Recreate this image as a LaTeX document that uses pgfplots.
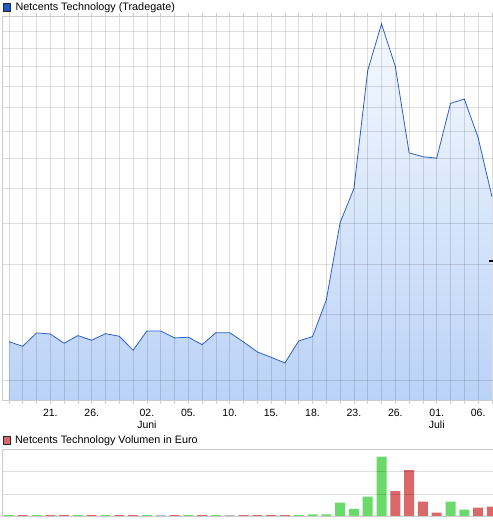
\documentclass[border=0pt]{standalone}
\usepackage{fontspec}
\setmainfont{Liberation Sans}
\usepackage{pgfplots}
\pgfplotsset{compat=1.18}

\definecolor{linec}{RGB}{42,98,201}
\definecolor{filltop}{RGB}{246,250,255}
\definecolor{fillbot}{RGB}{186,210,247}
\definecolor{framec}{RGB}{205,205,205}
\definecolor{upc}{RGB}{106,218,106}
\definecolor{downc}{RGB}{218,104,104}
\definecolor{flatc}{RGB}{185,185,185}
\definecolor{legblue}{RGB}{30,90,200}

\pgfplotsset{
  chart/.style={
    scale only axis, anchor=south west,
    width=493.35pt,
    xmin=-0.45, xmax=35.3,
    axis line style={draw=framec, line width=0.8pt},
    minor xtick={0,...,35},
    xminorgrids, ymajorgrids,
    grid style={black, opacity=0.13, line width=0.8pt},
    minor grid style={black, opacity=0.13, line width=0.8pt},
    axis on top,
    ytick style={draw=none},
    yticklabels={},
    legend cell align=left,
    legend style={draw=none, fill=none, inner sep=0pt,
      font=\fontsize{10.8}{12}\selectfont,
      nodes={inner sep=1.5pt}},
  },
}

\begin{document}
\begin{tikzpicture}[font=\fontsize{10.5}{11.5}\selectfont]

\begin{axis}[chart,
  at={(2.7pt,125.3pt)}, height=384.7pt,
  ymode=log, ymin=2.737, ymax=15,
  ytick={3,4,5,6,7,8,9,10,11,12,13,14,15},
  xtick={3,6,10,13,16,19,22,25,28,31,34},
  xticklabels={21.,26.,{02.\\Juni},05.,10.,15.,18.,23.,26.,{01.\\Juli},06.},
  xticklabel style={align=center, yshift=-1pt},
  major x tick style={draw=none},
  minor x tick style={draw=framec, line width=0.8pt},
  tick align=outside, minor tick length=3pt,
  legend style={at={(rel axis cs:0,1)}, anchor=west, yshift=8.5pt},
]
\addplot[draw=none, top color=filltop, bottom color=fillbot, forget plot]
  coordinates {(0,2.737) (0,3.554) (1,3.482) (2,3.694) (3,3.677) (4,3.529)
  (5,3.650) (6,3.576) (7,3.682) (8,3.640) (9,3.421) (10,3.726) (11,3.726)
  (12,3.613) (13,3.624) (14,3.507) (15,3.698) (16,3.698) (17,3.549)
  (18,3.396) (19,3.317) (20,3.234) (21,3.565) (22,3.634) (23,4.274)
  (24,6.017) (25,6.994) (26,11.79) (27,14.48) (28,12.00) (29,8.19)
  (30,8.05) (31,8.00) (32,10.19) (33,10.39) (34,8.76) (35,6.75) (35,2.737)}
  -- cycle;
\addplot[linec, line width=0.8pt,
  legend image code/.code={\draw[fill=legblue, draw=black!85] (0pt,-3.7pt) rectangle (7.4pt,3.7pt);}]
  coordinates {(0,3.554) (1,3.482) (2,3.694) (3,3.677) (4,3.529)
  (5,3.650) (6,3.576) (7,3.682) (8,3.640) (9,3.421) (10,3.726) (11,3.726)
  (12,3.613) (13,3.624) (14,3.507) (15,3.698) (16,3.698) (17,3.549)
  (18,3.396) (19,3.317) (20,3.234) (21,3.565) (22,3.634) (23,4.274)
  (24,6.017) (25,6.994) (26,11.79) (27,14.48) (28,12.00) (29,8.19)
  (30,8.05) (31,8.00) (32,10.19) (33,10.39) (34,8.76) (35,6.75)};
\addlegendentry{\hspace{3pt}Netcents Technology (Tradegate)}
% Markierung am rechten Rand
\addplot[forget plot, only marks, mark=-, mark size=3pt,
  mark options={black, line width=2pt}] coordinates {(35,5.07)};
\end{axis}

\begin{axis}[chart,
  at={(2.7pt,9.7pt)}, height=67pt,
  ymin=0, ymax=3, ytick={1,2},
  xtick=\empty,
  minor x tick style={draw=none},
  ybar, bar width=10pt, bar shift=0pt,
  legend style={at={(rel axis cs:0,1)}, anchor=west, yshift=9pt},
]
\addplot[fill=upc, draw=none,
  legend image code/.code={\draw[fill=downc, draw=black!85] (0pt,-3.7pt) rectangle (7.4pt,3.7pt);}]
  coordinates {(0,0.05) (2,0.05) (5,0.05) (7,0.05) (10,0.05) (13,0.05)
  (15,0.05) (21,0.05) (22,0.09) (23,0.09) (24,0.61) (25,0.33) (26,0.88)
  (27,2.67) (32,0.66) (33,0.30)};
\addlegendentry{\hspace{3pt}Netcents Technology Volumen in Euro}
\addplot[fill=downc, draw=none, forget plot]
  coordinates {(1,0.05) (3,0.05) (4,0.05) (6,0.05) (8,0.05) (9,0.05)
  (12,0.05) (14,0.05) (17,0.05) (18,0.05) (19,0.05) (20,0.05)
  (28,1.13) (29,2.07) (30,0.66) (31,0.17) (34,0.39) (35,0.43)};
\addplot[fill=flatc, draw=none, forget plot]
  coordinates {(11,0.05) (16,0.05)};
\end{axis}

\pgfresetboundingbox
\path[use as bounding box] (0,0) rectangle (492pt,526pt);
\end{tikzpicture}
\end{document}
